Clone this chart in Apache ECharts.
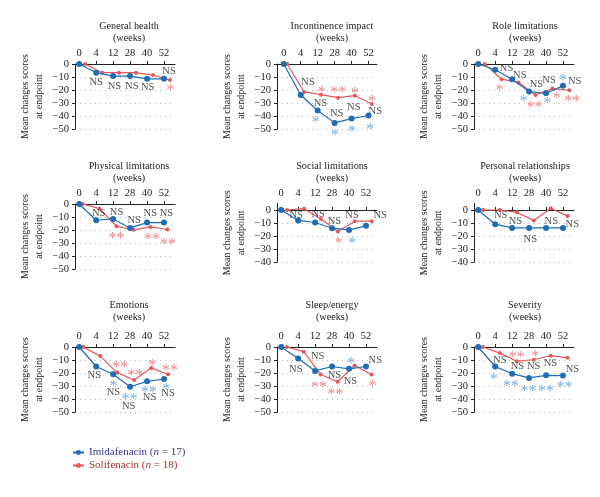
<!DOCTYPE html>
<html><head><meta charset="utf-8">
<script src="https://cdn.jsdelivr.net/npm/echarts@6/dist/echarts.min.js"></script>
<style>html,body{margin:0;padding:0;background:#fff}#c{width:600px;height:497px}</style>
</head><body><div id="c"></div>
<script>
// ---------- data ----------
const weeks = ['0', '4', '12', '28', '40', '52'];
const panelTitles = ['General health', 'Incontinence impact', 'Role limitations',
  'Physical limitations', 'Social limitations', 'Personal relationships',
  'Emotions', 'Sleep/energy', 'Severity'];
const imiName = 'Imidafenacin';
const soliName = 'Solifenacin';
const imiN = 17;
const soliN = 18;

const imiGeneral = [0, -6.7, -9.3, -9.3, -11.4, -11.4];
const soliGeneral = [0, -6.7, -6.7, -6.7, -8.5, -12.4];
const imiIncontinence = [0, -23.8, -35.8, -45.3, -42, -39.6];
const soliIncontinence = [0, -21.5, -23.6, -25.9, -24.4, -30.8];
const imiRole = [0, -4.4, -11.7, -21.2, -22.5, -16.8];
const soliRole = [0, -11.7, -14.2, -23.8, -18.9, -20.2];
const imiPhysical = [0, -12.5, -11.5, -18.4, -14.3, -14.3];
const soliPhysical = [0, -3.6, -17.1, -19.9, -17.6, -19.6];
const imiSocial = [0, -8, -9.6, -14, -15.3, -12.2];
const soliSocial = [0, 1, -7, -16.6, -8.6, -8.6];
const imiPersonal = [0, -10.9, -13.8, -13.8, -13.8, -13.8];
const soliPersonal = [0, 0, -1.8, -8, 1.3, -4.7];
const imiEmotions = [0, -15, -21, -30.6, -26.4, -24.6];
const soliEmotions = [0, -7, -19.7, -25.4, -16.1, -21];
const imiSleep = [0, -8.8, -18.4, -15, -16.8, -15];
const soliSleep = [0, -3.6, -21.2, -26.7, -14.2, -21.2];
const imiSeverity = [0, -15, -20.5, -23.8, -21.8, -22];
const soliSeverity = [0, -4.7, -10.9, -9.8, -6.7, -8.3];

// significance notes: [x (week index), y (score), text]
const nsGeneral = [[1.0, -14], [2.08, -16.8], [3.1, -16.8], [4.04, -17.9], [5.3, -5.7]];
const imiStarGeneral = [];
const soliStarGeneral = [[5.39, -17.9, '*']];
const nsIncontinence = [[1.43, -13.7], [2.16, -30.3], [3.12, -37.6], [4.13, -32.9], [5.4, -36]];
const imiStarIncontinence = [[1.88, -42.5, '*'], [3.02, -51.8, '*'], [4.03, -49.2, '*'], [5.1, -47.2, '*']];
const soliStarIncontinence = [[2.24, -19.4, '*'], [3.21, -19.4, '**'], [4.2, -20, '*'], [5.22, -26, '*']];
const nsRole = [[1.67, -3.1], [2.45, -9], [3.43, -15.3], [4.18, -12.7], [5.69, -13.2]];
const imiStarRole = [[2.69, -26, '*'], [4.08, -27.2, '*'], [5.0, -10, '*']];
const soliStarRole = [[1.27, -17.9, '*'], [3.33, -30.3, '**'], [4.63, -23.8, '*'], [5.55, -26, '**']];
const nsPhysical = [[1.15, -7.1], [2.2, -6.4], [3.24, -12.8], [4.19, -7.1], [5.14, -7.1]];
const imiStarPhysical = [];
const soliStarPhysical = [[2.2, -23.7, '**'], [4.29, -24.5, '**'], [5.24, -28, '**']];
const nsSocial = [[0.88, -4.2], [2.18, -3.1], [3.14, -8.8], [4.18, -4.2], [5.84, -4.4]];
const imiStarSocial = [[4.18, -22.6, '*']];
const soliStarSocial = [[3.4, -22.6, '*']];
const nsPersonal = [[1.32, -4.4], [2.19, -8.8], [3.07, -22.3], [4.31, -8.3], [5.55, -10.6]];
const imiStarPersonal = [];
const soliStarPersonal = [];
const nsEmotions = [[0.89, -21.5], [2.02, -35], [2.92, -45.3], [4.15, -38.6], [5.24, -35.2]];
const imiStarEmotions = [[2.02, -27.2, '*'], [2.98, -37.8, '**'], [4.11, -32, '**'], [5.14, -30, '*']];
const soliStarEmotions = [[2.42, -13, '**'], [3.31, -18.7, '**'], [4.31, -11.1, '*'], [5.36, -15.5, '**']];
const nsSleep = [[0.86, -16.8], [2.15, -7.3], [3.14, -22], [4.08, -26.7], [5.55, -10.4]];
const imiStarSleep = [[4.12, -9.8, '*']];
const soliStarSleep = [[2.23, -28, '**'], [3.2, -33.7, '**'], [5.39, -27.7, '*']];
const nsSeverity = [[1.27, -10.4], [2.31, -15], [3.27, -15], [4.26, -12.4], [5.56, -16.8]];
const imiStarSeverity = [[0.92, -22.3, '*'], [1.93, -27.2, '**'], [2.97, -31, '**'], [4.0, -31, '**'], [5.1, -28.5, '**']];
const soliStarSeverity = [[2.27, -5.4, '**'], [3.37, -4.1, '*']];

const imiSeries = [imiGeneral, imiIncontinence, imiRole, imiPhysical, imiSocial, imiPersonal, imiEmotions, imiSleep, imiSeverity];
const soliSeries = [soliGeneral, soliIncontinence, soliRole, soliPhysical, soliSocial, soliPersonal, soliEmotions, soliSleep, soliSeverity];
const nsNotes = [nsGeneral, nsIncontinence, nsRole, nsPhysical, nsSocial, nsPersonal, nsEmotions, nsSleep, nsSeverity];
const imiStars = [imiStarGeneral, imiStarIncontinence, imiStarRole, imiStarPhysical, imiStarSocial, imiStarPersonal, imiStarEmotions, imiStarSleep, imiStarSeverity];
const soliStars = [soliStarGeneral, soliStarIncontinence, soliStarRole, soliStarPhysical, soliStarSocial, soliStarPersonal, soliStarEmotions, soliStarSleep, soliStarSeverity];
const yMins = [-50, -50, -50, -50, -40, -40, -50, -50, -50];
const yMaxs = [0, 0, 0, 0, 5, 5, 0, 0, 0];

// ---------- layout ----------
const FONT = '"Liberation Serif", "DejaVu Serif", serif';
const BLUE = '#1f6db5', RED = '#e4585c', BLUE_STAR = '#5b9bd0', RED_STAR = '#e86a6d';
const colLeft = [75, 277, 474];
const colTitleX = [129, 332, 525];
const panelZeroY = [64, 64, 64, 204, 210, 210, 347, 347, 347];
const rowTitleTop = [20, 160, 299];
const PX_PER_UNIT = 1.3;
const GRID_W = 100;
const xMins = [-0.25, -0.4, -0.25, -0.25, -0.25, -0.25, -0.25, -0.25, -0.25];
const soliOffset = [0.35, 0.2, 0.38, 0.2, 0.34, 0.28, 0.24, 0.33, 0.28];

const grids = [], xAxes = [], yAxes = [], series = [], titles = [];
for (let p = 0; p < 9; p++) {
  const r = Math.floor(p / 3), c = p % 3;
  const top = panelZeroY[p] - yMaxs[p] * PX_PER_UNIT;
  const height = (yMaxs[p] - yMins[p]) * PX_PER_UNIT;
  const xMin = xMins[p];
  const xMax = xMin + 5.9;
  grids.push({ left: colLeft[c], top: top, width: GRID_W, height: height });
  titles.push({
    text: panelTitles[p] + '\n(weeks)', left: colTitleX[c], top: rowTitleTop[r], textAlign: 'center', padding: 0,
    textStyle: { fontFamily: FONT, fontSize: 10.2, fontWeight: 'normal', color: '#222', lineHeight: 12.5 }
  });
  xAxes.push({
    type: 'value', gridIndex: p, position: 'top', min: xMin, max: xMax,
    axisLine: { onZero: true, lineStyle: { color: '#222', width: 1 } },
    axisTick: { show: true, length: 3, customValues: [0, 1, 2, 3, 4, 5], lineStyle: { color: '#222' } },
    axisLabel: { customValues: [0, 1, 2, 3, 4, 5], formatter: v => weeks[Math.round(v)], margin: 5,
      fontFamily: FONT, fontSize: 10.5, color: '#222' },
    splitLine: { show: false }
  });
  const yTicks = [];
  for (let v = yMins[p]; v <= 0; v += 10) yTicks.push(v);
  yAxes.push({
    type: 'value', gridIndex: p, min: yMins[p], max: yMaxs[p],
    name: 'Mean changes scores\nat endpoint', nameLocation: 'middle', nameGap: 29,
    nameTextStyle: { fontFamily: FONT, fontSize: 10, color: '#222', lineHeight: 14 },
    axisLine: { show: true, onZero: false, lineStyle: { color: '#222', width: 1 } },
    axisTick: { show: true, length: 3, customValues: yTicks, lineStyle: { color: '#222' } },
    axisLabel: { customValues: yTicks, margin: 6, fontFamily: FONT, fontSize: 10.5, color: '#222',
      formatter: v => v === 0 ? '0' : '\u2212' + Math.abs(v) },
    splitLine: { show: true, showMaxLine: false, lineStyle: { color: '#b8b8b8', type: [1, 4], width: 1 } }
  });
  series.push({
    name: imiName, type: 'line', xAxisIndex: p, yAxisIndex: p,
    data: imiSeries[p].map((v, i) => [i, v]),
    symbol: 'circle', symbolSize: 6, color: BLUE, lineStyle: { color: BLUE, width: 1.2 },
    itemStyle: { color: BLUE }, animation: false, z: 3
  });
  series.push({
    name: soliName, type: 'line', xAxisIndex: p, yAxisIndex: p,
    data: soliSeries[p].map((v, i) => [i + soliOffset[p], v]),
    symbol: 'circle', symbolSize: 4, color: RED, lineStyle: { color: RED, width: 1.2 },
    itemStyle: { color: RED }, animation: false, z: 2
  });
  const noteSeries = (data, color, size, dy) => ({
    type: 'scatter', xAxisIndex: p, yAxisIndex: p, clip: false, silent: true,
    symbolSize: 0, animation: false, z: 5,
    data: data.map(d => ({ value: [d[0], d[1]], text: d[2] || 'NS' })),
    label: { show: true, position: 'inside', offset: [0, dy], formatter: q => q.data.text,
      fontFamily: FONT, fontSize: size, color: color, align: 'center', verticalAlign: 'middle' }
  });
  series.push(noteSeries(nsNotes[p], '#222', 10.5, 0));
  series.push(noteSeries(imiStars[p], BLUE_STAR, 16, 4));
  series.push(noteSeries(soliStars[p], RED_STAR, 16, 4));
}

const option = {
  animation: false,
  backgroundColor: '#fff',
  title: titles,
  grid: grids,
  xAxis: xAxes,
  yAxis: yAxes,
  legend: {
    orient: 'vertical', left: 72, top: 447, itemGap: 2, itemWidth: 11, itemHeight: 6, padding: 0,
    data: [
      { name: imiName, textStyle: { color: '#3a3a8a' } },
      { name: soliName, textStyle: { color: '#a83232' } }
    ],
    formatter: name => name + ' ({i|n} = ' + (name === imiName ? imiN : soliN) + ')',
    textStyle: { fontFamily: FONT, fontSize: 11, rich: { i: { fontStyle: 'italic', fontFamily: FONT, fontSize: 11 } } }
  },
  series: series
};
const chart = echarts.init(document.getElementById('c'), null, { renderer: 'canvas' });
chart.setOption(option);
</script></body></html>
